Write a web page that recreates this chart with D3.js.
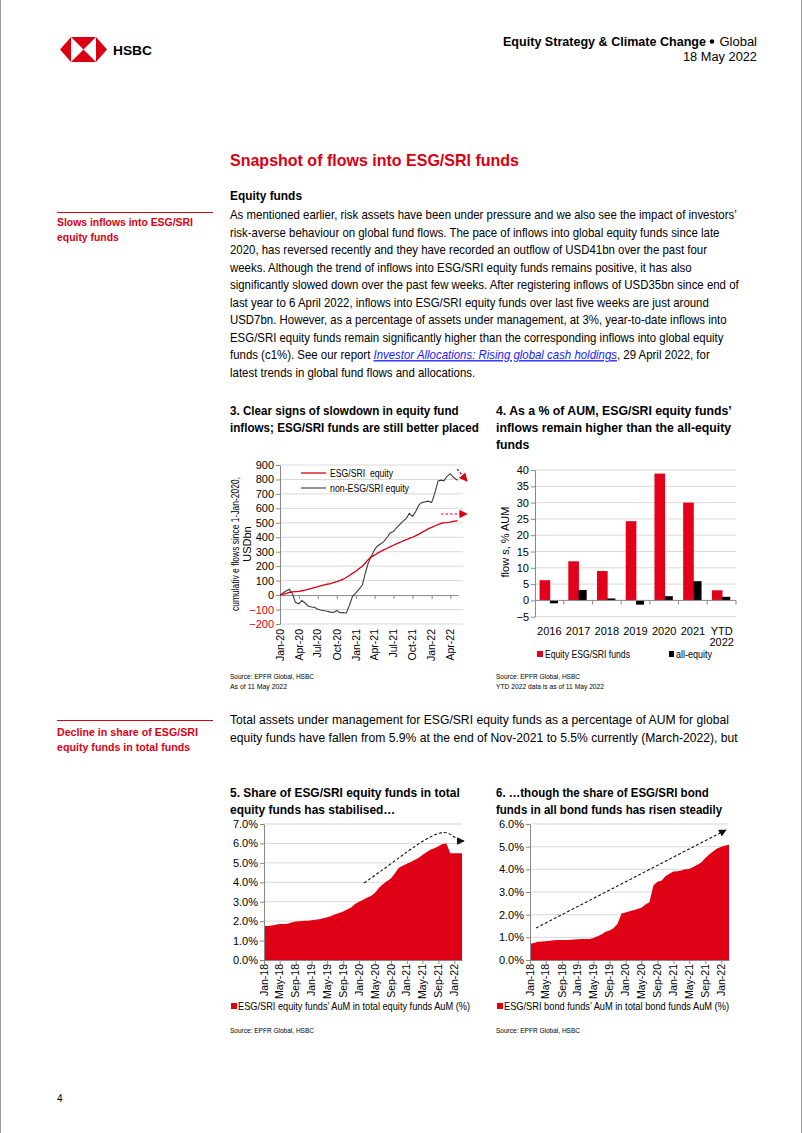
<!DOCTYPE html>
<html><head><meta charset="utf-8">
<script src="https://cdn.jsdelivr.net/npm/d3@7"></script>
<style>
body{margin:0;background:#fff}
svg{display:block;font-family:"Liberation Sans",Arial,sans-serif}
</style>
</head><body>
<svg id="c" width="802" height="1133"></svg>
<script>
// ---------------- DATA ----------------
const flowDates = ["2020-01-01","2020-01-15","2020-02-01","2020-02-15","2020-03-01","2020-03-15","2020-04-01","2020-04-15","2020-05-01","2020-05-15","2020-06-01","2020-06-15","2020-07-01","2020-07-15","2020-08-01","2020-08-15","2020-09-01","2020-09-15","2020-10-01","2020-10-15","2020-11-01","2020-11-15","2020-12-01","2020-12-15",
"2021-01-01","2021-01-15","2021-02-01","2021-02-15","2021-03-01","2021-03-15","2021-04-01","2021-04-15","2021-05-01","2021-05-15","2021-06-01","2021-06-15","2021-07-01","2021-07-15","2021-08-01","2021-08-15","2021-09-01","2021-09-15","2021-10-01","2021-10-15","2021-11-01","2021-11-15","2021-12-01","2021-12-15",
"2022-01-01","2022-01-15","2022-02-01","2022-02-15","2022-03-01","2022-03-15","2022-04-01","2022-04-15","2022-05-06"];
const esgFlows = [0,5,12,18,22,24,26,30,35,40,46,52,58,64,70,75,80,86,93,100,110,122,136,150,
165,182,200,222,245,265,276,290,302,313,324,334,345,354,364,374,383,392,400,410,422,434,446,458,
468,478,487,496,500,502,505,510,515];
const nonEsgFlows = [0,15,30,40,10,-50,-60,-38,-55,-75,-82,-85,-98,-103,-108,-112,-118,-120,-106,-122,-120,-125,-70,-10,
15,40,70,150,220,265,315,340,355,370,400,430,440,465,490,510,530,565,545,575,625,640,645,650,
640,700,790,795,790,820,840,815,795];
const flowTicks = ["Jan-20","Apr-20","Jul-20","Oct-20","Jan-21","Apr-21","Jul-21","Oct-21","Jan-22","Apr-22"];
const flowYTicks = [-200,-100,0,100,200,300,400,500,600,700,800,900];

const aumYears = ["2016","2017","2018","2019","2020","2021","YTD 2022"];
const esgAum = [6.2,12,9,24.3,38.9,30,3.1];
const allEqAum = [-0.9,3.2,0.6,-1.3,1.3,5.9,1.1];
const aumYTicks = [-5,0,5,10,15,20,25,30,35,40];

// monthly Jan-18 .. Mar-22
const eqShare = [1.75,1.75,1.78,1.82,1.85,1.85,1.87,1.93,1.98,2.0,2.02,2.02,
2.05,2.07,2.1,2.15,2.2,2.27,2.35,2.42,2.5,2.6,2.7,2.88,
3.0,3.1,3.2,3.3,3.45,3.7,3.9,4.05,4.2,4.45,4.75,4.85,
4.95,5.05,5.15,5.25,5.4,5.55,5.68,5.75,5.85,5.97,6.0,5.5,
5.5,5.5,5.5];
const bondShare = [0.72,0.75,0.8,0.82,0.83,0.85,0.87,0.88,0.88,0.88,0.88,0.9,
0.92,0.93,0.93,0.93,0.97,1.05,1.12,1.25,1.3,1.4,1.6,2.05,
2.1,2.15,2.2,2.25,2.3,2.45,2.55,3.3,3.45,3.5,3.7,3.8,
3.9,3.92,3.95,4.0,4.02,4.1,4.2,4.3,4.5,4.65,4.8,4.92,
5.0,5.05,5.08];

// ---------------- HELPERS ----------------
const svg = d3.select("#c");
const RED = "#db0011";
const FONT = '"Liberation Sans",Arial,sans-serif';

function T(x,y,s,o={}) {
  const t = svg.append("text").attr("x",x).attr("y",y).text(s)
    .attr("font-size",o.size||13).attr("fill",o.fill||"#000");
  if(o.bold) t.attr("font-weight","bold");
  if(o.anchor) t.attr("text-anchor",o.anchor);
  if(o.pre) t.style("white-space","pre");
  if(o.w) t.attr("textLength",o.w).attr("lengthAdjust","spacingAndGlyphs");
  return t;
}
function block(x, y0, lh, lines, o, w0) {
  const g = svg.append("g");
  const ts = lines.map((ln,i)=>{
    const t = g.append("text").attr("x",0).attr("y",y0+i*lh)
      .attr("font-size",o.size).attr("fill",o.fill||"#000");
    if(o.bold) t.attr("font-weight","bold");
    (Array.isArray(ln)?ln:[{t:ln}]).forEach(s=>{
      const sp = t.append("tspan").text(s.t);
      if(s.link) sp.attr("fill","#1a1aff").attr("font-style","italic").attr("text-decoration","underline");
    });
    return t;
  });
  const k = w0 / ts[0].node().getComputedTextLength();
  g.attr("transform",`translate(${x},0) scale(${k},1)`);
  return g;
}
function styleAxis(g, size) {
  g.attr("font-family",FONT);
  g.select(".domain").attr("stroke","#888");
  g.selectAll(".tick line").attr("stroke","#888");
  g.selectAll(".tick text").attr("font-size",size).attr("fill","#000");
}

// markers
const defs = svg.append("defs");
[["arrBlack","#111"],["arrRed",RED]].forEach(([id,col])=>{
  defs.append("marker").attr("id",id).attr("viewBox","0 0 10 10").attr("refX",9).attr("refY",5)
    .attr("markerWidth",7).attr("markerHeight",7).attr("orient","auto-start-reverse")
    .append("path").attr("d","M0,0 L10,5 L0,10 z").attr("fill",col);
});

// ---------------- PAGE ----------------
svg.append("line").attr("x1",0.5).attr("x2",0.5).attr("y1",0).attr("y2",1133).attr("stroke","#9a9a9a");
svg.append("line").attr("x1",801.5).attr("x2",801.5).attr("y1",0).attr("y2",1133).attr("stroke","#9a9a9a");

// logo
const lg = svg.append("g");
lg.append("polygon").attr("points","60,49.5 71,37 96,37 107,49.5 96,62 71,62").attr("fill","#fff");
[["60,49.5 71,37 71,62"],["107,49.5 96,37 96,62"],["71,37 96,37 83.5,49.5"],["71,62 96,62 83.5,49.5"]]
  .forEach(p=>lg.append("polygon").attr("points",p[0]).attr("fill",RED));
T(113,55,"HSBC",{size:13.5,bold:true,w:39});

T(757,46,"Global",{size:13,anchor:"end"});
svg.append("circle").attr("cx",712).attr("cy",41.5).attr("r",2.3).attr("fill","#000");
T(706,46,"Equity Strategy & Climate Change",{size:12.5,bold:true,anchor:"end",w:203});
T(757,61,"18 May 2022",{size:12.5,anchor:"end",w:74});

T(230,166,"Snapshot of flows into ESG/SRI funds",{size:17,bold:true,fill:RED,w:289});
T(230,199.5,"Equity funds",{size:13,bold:true,w:72});

svg.append("line").attr("x1",57).attr("x2",213).attr("y1",212.5).attr("y2",212.5).attr("stroke",RED).attr("stroke-width",1);
block(57,226,15,["Slows inflows into ESG/SRI","equity funds"],{size:11,bold:true,fill:RED},136);

block(230,219.5,17.45,[
 "As mentioned earlier, risk assets have been under pressure and we also see the impact of investors’",
 "risk-averse behaviour on global fund flows. The pace of inflows into global equity funds since late",
 "2020, has reversed recently and they have recorded an outflow of USD41bn over the past four",
 "weeks. Although the trend of inflows into ESG/SRI equity funds remains positive, it has also",
 "significantly slowed down over the past few weeks. After registering inflows of USD35bn since end of",
 "last year to 6 April 2022, inflows into ESG/SRI equity funds over last five weeks are just around",
 "USD7bn. However, as a percentage of assets under management, at 3%, year-to-date inflows into",
 "ESG/SRI equity funds remain significantly higher than the corresponding inflows into global equity",
 [{t:"funds (c1%). See our report "},{t:"Investor Allocations: Rising global cash holdings",link:true},{t:", 29 April 2022, for"}],
 "latest trends in global fund flows and allocations."
],{size:13},507);

// chart titles
block(230,415.5,17,["3. Clear signs of slowdown in equity fund","inflows; ESG/SRI funds are still better placed"],{size:12.5,bold:true},229);
block(496,415.5,17,["4. As a % of AUM, ESG/SRI equity funds’","inflows remain higher than the all-equity","funds"],{size:12.5,bold:true},236);

// ---------------- CHART 3 ----------------
const parse = d3.timeParse("%Y-%m-%d");
const fmtTick = d3.timeFormat("%b-%y");
const c3 = svg.append("g");
const x3 = d3.scaleTime().domain([parse("2020-01-01"), parse("2022-05-08")]).range([280,458]);
const y3 = d3.scaleLinear().domain([-200,900]).range([624,465]);
c3.selectAll("line.grid").data(flowYTicks.filter(v=>v!==0)).join("line")
  .attr("x1",280).attr("x2",463).attr("y1",d=>y3(d)).attr("y2",d=>y3(d)).attr("stroke","#d9d9d9");
const ya3 = c3.append("g").attr("transform","translate(280,0)")
  .call(d3.axisLeft(y3).tickValues(flowYTicks).tickSize(4).tickSizeOuter(0).tickPadding(2));
styleAxis(ya3,11);
ya3.selectAll(".tick text").attr("fill",d=>d<0?RED:"#000");
const tickDates = flowTicks.map(s=>d3.timeParse("%b-%y")(s));
const xa3 = c3.append("g").attr("transform",`translate(0,${y3(0)})`)
  .call(d3.axisBottom(x3).tickValues(tickDates).tickSize(4).tickSizeOuter(0).tickFormat(""));
styleAxis(xa3,10.5);
c3.selectAll("text.xl").data(tickDates).join("text")
  .attr("transform",d=>`translate(${x3(d)},629) rotate(-90)`).attr("dy","0.35em")
  .attr("text-anchor","end").attr("font-size",10.5).text(d=>fmtTick(d));
const fd = flowDates.map(parse);
const line3 = d3.line().x((d,i)=>x3(fd[i])).y(d=>y3(d));
c3.append("path").attr("d",line3(nonEsgFlows)).attr("fill","none").attr("stroke","#3c3c3c").attr("stroke-width",1.1);
c3.append("path").attr("d",line3(esgFlows)).attr("fill","none").attr("stroke",RED).attr("stroke-width",1.3);
// legend
c3.append("line").attr("x1",301).attr("x2",326).attr("y1",473).attr("y2",473).attr("stroke",RED).attr("stroke-width",1.3);
c3.append("line").attr("x1",301).attr("x2",326).attr("y1",488).attr("y2",488).attr("stroke","#3c3c3c").attr("stroke-width",1.1);
T(330,477,"ESG/SRI  equity",{size:11,pre:true,w:63});
T(330,492,"non-ESG/SRI equity",{size:11,w:79});
// axis title
c3.append("text").attr("transform","translate(239,544) rotate(-90)").attr("text-anchor","middle")
  .attr("font-size",11).attr("textLength",134).attr("lengthAdjust","spacingAndGlyphs").text("cumulativ e flows since 1-Jan-2020,");
c3.append("text").attr("transform","translate(250.5,544) rotate(-90)").attr("text-anchor","middle")
  .attr("font-size",11).text("USDbn");
// arrows
c3.append("line").attr("x1",457).attr("y1",469).attr("x2",467).attr("y2",481)
  .attr("stroke",RED).attr("stroke-width",1.2).attr("stroke-dasharray","2.5,2").attr("marker-end","url(#arrRed)");
c3.append("line").attr("x1",441).attr("y1",514).attr("x2",467).attr("y2",514)
  .attr("stroke",RED).attr("stroke-width",1.2).attr("stroke-dasharray","2.5,2").attr("marker-end","url(#arrRed)");
T(230,678.5,"Source: EPFR Global, HSBC",{size:7,w:84});
T(230,688.5,"As of 11 May 2022",{size:7,w:57});

// ---------------- CHART 4 ----------------
const c4 = svg.append("g");
const x4 = d3.scaleBand().domain(aumYears).range([535,736]);
const y4 = d3.scaleLinear().domain([-5,40]).range([616.7,470]);
const bw = x4.bandwidth();
c4.selectAll("line.grid").data(aumYTicks.filter(v=>v!==0)).join("line")
  .attr("x1",535).attr("x2",736).attr("y1",d=>y4(d)).attr("y2",d=>y4(d)).attr("stroke","#d9d9d9");
c4.selectAll("rect.e").data(esgAum).join("rect")
  .attr("x",(d,i)=>x4(aumYears[i])+bw*0.16).attr("width",bw*0.37)
  .attr("y",d=>y4(Math.max(0,d))).attr("height",d=>Math.abs(y4(d)-y4(0))).attr("fill","#e3001b");
c4.selectAll("rect.a").data(allEqAum).join("rect")
  .attr("x",(d,i)=>x4(aumYears[i])+bw*0.52).attr("width",bw*0.28)
  .attr("y",d=>y4(Math.max(0,d))).attr("height",d=>Math.abs(y4(d)-y4(0))).attr("fill","#000");
const ya4 = c4.append("g").attr("transform","translate(535,0)")
  .call(d3.axisLeft(y4).tickValues(aumYTicks).tickSize(4).tickSizeOuter(0).tickPadding(2));
styleAxis(ya4,11);
c4.append("line").attr("x1",535).attr("x2",736).attr("y1",y4(0)).attr("y2",y4(0)).attr("stroke","#888");
c4.selectAll("line.xt").data(aumYears).join("line")
  .attr("x1",d=>x4(d)+bw).attr("x2",d=>x4(d)+bw).attr("y1",y4(0)).attr("y2",y4(0)+4).attr("stroke","#888");
aumYears.forEach(yr=>{
  const parts = yr.split(" ");
  parts.forEach((p,j)=>{
    c4.append("text").attr("x",x4(yr)+bw/2).attr("y",634.5+j*11.5).attr("text-anchor","middle")
      .attr("font-size",11).text(p);
  });
});
c4.append("text").attr("transform","translate(509,542) rotate(-90)").attr("text-anchor","middle")
  .attr("font-size",11).text("flow s, % AUM");
c4.append("rect").attr("x",537).attr("y",651).attr("width",6).attr("height",6).attr("fill","#e3001b");
T(545,657.5,"Equity ESG/SRI funds",{size:11,w:85});
c4.append("rect").attr("x",669).attr("y",651).attr("width",5).attr("height",6).attr("fill","#000");
T(676,657.5,"all-equity",{size:11,w:36});
T(496,678.5,"Source: EPFR Global, HSBC",{size:7,w:84});
T(496,688.5,"YTD 2022 data is as of 11 May 2022",{size:7,w:108});

// ---------------- SECTION 2 ----------------
svg.append("line").attr("x1",57).attr("x2",213).attr("y1",720.5).attr("y2",720.5).attr("stroke",RED);
block(57,736,15,["Decline in share of ESG/SRI","equity funds in total funds"],{size:11,bold:true,fill:RED},141);
block(230,724.5,17.45,[
 "Total assets under management for ESG/SRI equity funds as a percentage of AUM for global",
 "equity funds have fallen from 5.9% at the end of Nov-2021 to 5.5% currently (March-2022), but"
],{size:13},499);
block(230,797.5,16.5,["5. Share of ESG/SRI equity funds in total","equity funds has stabilised…"],{size:12.5,bold:true},230);
block(496,797.5,16.5,["6. …though the share of ESG/SRI bond","funds in all bond funds has risen steadily"],{size:12.5,bold:true},213);

// ---------------- CHARTS 5 & 6 ----------------
const months = d3.timeMonth.range(new Date(2018,0,1), new Date(2022,3,1));
function shareChart(vals, x0, x1, ymax, legend, legW, arrowPath) {
  const g = svg.append("g");
  const x = d3.scaleTime().domain([months[0], months[months.length-1]]).range([x0, x1]);
  const y = d3.scaleLinear().domain([0, ymax]).range([960, 824]);
  const yt = d3.range(0, ymax+0.001, 1);
  g.selectAll("line.grid").data(yt.slice(1)).join("line")
    .attr("x1",x0).attr("x2",x1).attr("y1",d=>y(d)).attr("y2",d=>y(d)).attr("stroke","#d9d9d9");
  const area = d3.area().x((d,i)=>x(months[i])).y0(y(0)).y1(d=>y(d));
  g.append("path").attr("d",area(vals)).attr("fill","#e00016");
  const ya = g.append("g").attr("transform",`translate(${x0},0)`)
    .call(d3.axisLeft(y).tickValues(yt).tickSize(4).tickSizeOuter(0).tickPadding(2).tickFormat(d=>d.toFixed(1)+"%"));
  styleAxis(ya,11);
  const ticks = x.ticks(d3.timeMonth.every(4));
  const xa = g.append("g").attr("transform","translate(0,960)")
    .call(d3.axisBottom(x).tickValues(ticks).tickSize(4).tickSizeOuter(0).tickFormat(""));
  styleAxis(xa,10.5);
  g.selectAll("text.xl").data(ticks).join("text")
    .attr("transform",d=>`translate(${x(d)},964) rotate(-90)`).attr("dy","0.35em")
    .attr("text-anchor","end").attr("font-size",10.5).text(d=>fmtTick(d));
  g.append("path").attr("d",arrowPath).attr("fill","none").attr("stroke","#111").attr("stroke-width",1.1)
    .attr("stroke-dasharray","3,2").attr("marker-end","url(#arrBlack)");
  g.append("rect").attr("x",x0-33).attr("y",1003).attr("width",6).attr("height",6).attr("fill","#e00016");
  T(x0-26,1010,legend,{size:11,w:legW});
  T(x0-34,1032.5,"Source: EPFR Global, HSBC",{size:7,w:84});
}
shareChart(eqShare, 264, 462, 7, "ESG/SRI equity funds’ AuM in total equity funds AuM (%)", 232,
  "M364,883 C395,862 422,838 440,833 C452,830 454,841 464,841");
shareChart(bondShare, 530, 729, 6, "ESG/SRI bond funds’ AuM in total bond funds AuM (%)", 225,
  "M536,928 L726,830");

T(57,1102,"4",{size:10});
</script>
</body></html>
